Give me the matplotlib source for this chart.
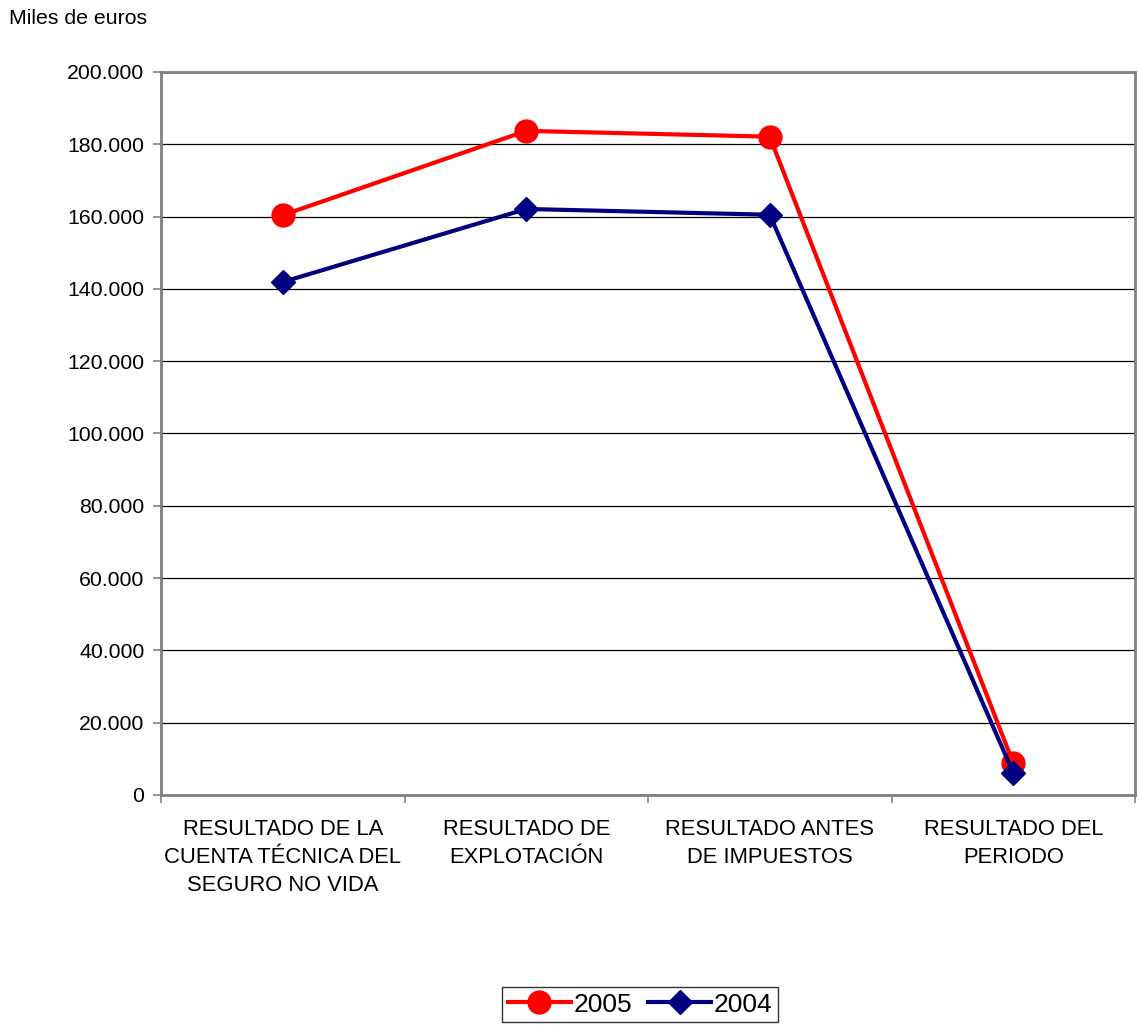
import matplotlib
matplotlib.use("Agg")
import matplotlib.pyplot as plt
from matplotlib.ticker import FuncFormatter, FixedLocator

categories = ["RESULTADO DE LA\nCUENTA TÉCNICA DEL\nSEGURO NO VIDA",
              "RESULTADO DE\nEXPLOTACIÓN",
              "RESULTADO ANTES\nDE IMPUESTOS",
              "RESULTADO DEL\nPERIODO"]
values_2005 = [160400, 183700, 182100, 8800]
values_2004 = [141900, 162100, 160500, 6100]
series_names = ["2005", "2004"]
yticks = list(range(0, 200001, 20000))

plt.rcParams['font.family'] = ['Liberation Sans', 'DejaVu Sans']

fig = plt.figure(figsize=(11.39, 10.25), dpi=100)
ax = fig.add_axes([0.1414, 0.2244, 0.8551, 0.7054])

x = list(range(len(categories)))
ax.plot(x, values_2005, color='#FF0000', lw=3, marker='o', ms=16.5, label=series_names[0], zorder=3)
ax.plot(x, values_2004, color='#000080', lw=3, marker='D', ms=12.5, label=series_names[1], zorder=4)

ax.set_xlim(-0.5, len(categories) - 0.5)
ax.set_ylim(0, 200000)
ax.set_yticks(yticks)
ax.yaxis.set_major_formatter(FuncFormatter(lambda v, p: f"{int(v):,}".replace(",", ".")))
ax.grid(axis='y', color='black', lw=0.9)
ax.set_axisbelow(True)

ax.set_xticks(x)
ax.set_xticklabels(categories, fontsize=15.8, linespacing=1.45)
ax.tick_params(axis='x', length=0, pad=17)
ax.xaxis.set_minor_locator(FixedLocator([i - 0.5 for i in range(len(categories) + 1)]))
ax.tick_params(axis='x', which='minor', length=6, color='#808080', width=1.2)
ax.tick_params(axis='y', labelsize=15.3, length=6, color='#808080', width=1.2, pad=6)

for s in ax.spines.values():
    s.set_color('#808080')
    s.set_linewidth(2)

fig.text(0.008, 0.982, "Miles de euros", fontsize=15.3, ha='left', va='center')

leg = fig.legend(loc='center', bbox_to_anchor=(0.562, 0.02), ncol=2, frameon=True,
                 fontsize=19, fancybox=False, edgecolor='black', handlelength=2.4,
                 handletextpad=0.1, columnspacing=0.6, borderpad=0.2, borderaxespad=0)
leg.get_frame().set_linewidth(1)

fig.savefig("out.png", dpi=100)
